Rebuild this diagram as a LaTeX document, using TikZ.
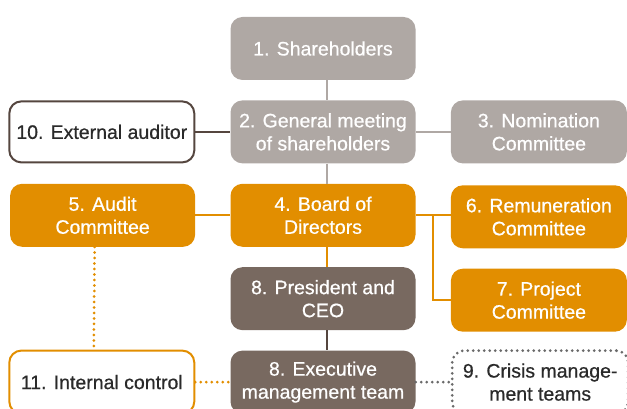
\documentclass[tikz,border=0pt]{standalone}
\usepackage{fontspec}
\setmainfont{Liberation Sans}
\newfontfamily\boxfont{Liberation Sans}[FakeBold=0.6]
\usetikzlibrary{positioning}

\definecolor{sharegray}{HTML}{AFA8A4}
\definecolor{boardorange}{HTML}{E28E00}
\definecolor{mgmtbrown}{HTML}{786960}
\definecolor{auditbrown}{HTML}{55463F}
\definecolor{crisisgray}{HTML}{6A6A6A}
\definecolor{textdark}{HTML}{2A2A2A}

\tikzset{node distance=20pt and 35pt,
  box/.style={rounded corners=12pt, minimum width=185pt, minimum height=63pt,
    inner sep=0pt, align=center, text=white,
    font=\boxfont\fontsize{19.5}{23}\selectfont},
  sidebox/.style={box, minimum width=176pt},
  gray box/.style={box, fill=sharegray},
  orange box/.style={box, fill=boardorange},
  brown box/.style={box, fill=mgmtbrown},
  grayline/.style={draw=sharegray, line width=2pt},
  orangeline/.style={draw=boardorange, line width=2pt},
  brownline/.style={draw=auditbrown, line width=2pt},
  dotline/.style={line width=3pt, line cap=round, dash pattern=on 0pt off 5.5pt}}

\begin{document}
\begin{tikzpicture}
      \useasboundingbox (0,0) rectangle (627pt,409pt);

      \node (SH)   [gray box] at (323pt,360.5pt) {1. Shareholders};
      \node (GM)   [gray box, below=of SH] {2. General meeting\\of shareholders};
      \node (BD)   [orange box, below=of GM] {4. Board of\\Directors};
      \node (CEO)  [brown box, below=of BD] {8. President and\\CEO};
      \node (EMT)  [brown box, below=of CEO] {8. Executive\\management team};

      \node (EA)   [box, left=of GM, draw=auditbrown, line width=2pt, fill=white,
                    text=textdark, minimum height=61pt] {10. External auditor};
      \node (AC)   [orange box, left=of BD] {5. Audit\\Committee};
      \node (IC)   [box, left=of EMT, draw=boardorange, line width=2pt, fill=white,
                    text=textdark] {11. Internal control};

      \node (NC)   [sidebox, fill=sharegray, right=of GM] {3. Nomination\\Committee};
      \node (RC)   [sidebox, fill=boardorange, right=of BD, yshift=-1.5pt] {6. Remuneration\\Committee};
      \node (PC)   [sidebox, fill=boardorange, right=of CEO, yshift=-1.5pt] {7. Project\\Committee};
      \node (CMT)  [sidebox, right=of EMT, draw=crisisgray, text=textdark, dotline]
                   {9. Crisis manage-\\ment teams};

      \draw[grayline] ([xshift=4pt]SH.south) -- ([xshift=4pt]GM.north);
      \draw[grayline] ([xshift=4pt]GM.south) -- ([xshift=4pt]BD.north);
      \draw[grayline] (GM) -- (NC);
      \draw[brownline] (EA) -- (GM);
      \draw[orangeline] (AC) -- (BD);
      \draw[orangeline] (BD.east) -- (BD.east -| RC.west);
      \draw[orangeline] (PC.west) -- ++(-18pt,0) |- (BD.east);
      \draw[orangeline] ([xshift=4pt]BD.south) -- ([xshift=4pt]CEO.north);
      \draw[brownline] ([xshift=4pt]CEO.south) -- ([xshift=4pt]EMT.north);

      \draw[boardorange, dotline] ([xshift=-8pt]AC.south) -- ([xshift=-8pt]IC.north);
      \draw[boardorange, dotline] (IC) -- (EMT);
      \draw[crisisgray, dotline] (EMT) -- (CMT);
    \end{tikzpicture}
\end{document}
